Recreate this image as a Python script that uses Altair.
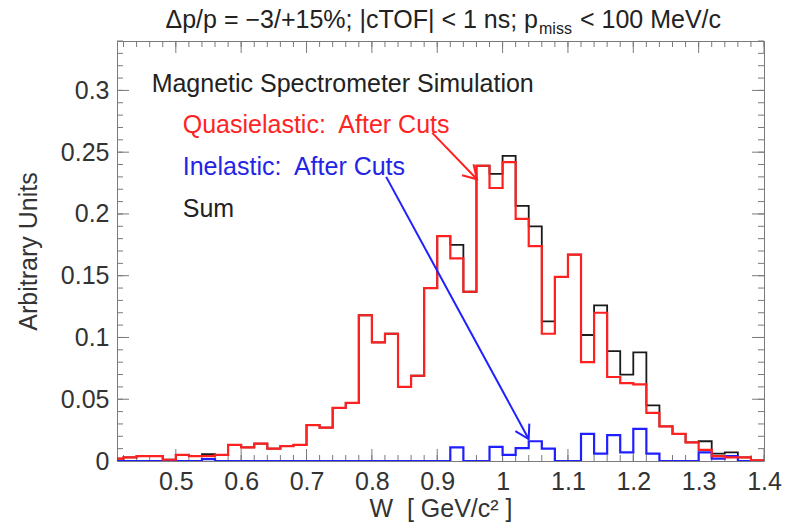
import altair as alt
import numpy as np
import pandas as pd

# W histogram: lower bin edges (GeV/c^2), bins 0.02 wide
BIN = 0.02
bin_lo = np.round(np.arange(0.40, 1.40, BIN), 2)

# Quasielastic events after cuts (red)
quasi = [0.002, 0.003, 0.004, 0.004, 0.001, 0.005, 0.004, 0.004, 0.005, 0.013,
         0.011, 0.014, 0.010, 0.012, 0.013, 0.029, 0.027, 0.043, 0.047, 0.118,
         0.096, 0.103, 0.060, 0.069, 0.140, 0.182, 0.164, 0.137, 0.239, 0.221,
         0.242, 0.196, 0.174, 0.103, 0.149, 0.167, 0.080, 0.120, 0.068, 0.063,
         0.062, 0.039, 0.028, 0.022, 0.015, 0.009, 0.004, 0.003, 0.003, 0.0005]

# Inelastic events after cuts (blue)
inel = [0.0, 0.0, 0.0, 0.0, 0.0, 0.0, 0.0, 0.0015, 0.0, 0.0,
        0.0, 0.0, 0.0, 0.0, 0.0, 0.0, 0.0, 0.0, 0.0, 0.0,
        0.0, 0.0, 0.0, 0.0, 0.0, 0.0, 0.011, 0.0, 0.0, 0.0115,
        0.005, 0.0105, 0.016, 0.010, 0.0, 0.0, 0.022, 0.006, 0.021, 0.007,
        0.026, 0.006, 0.0, 0.0, 0.0, 0.007, 0.002, 0.004, 0.0, 0.0]

# Sum of both channels (black)
total = [0.002, 0.003, 0.004, 0.004, 0.001, 0.005, 0.004, 0.0055, 0.005, 0.013,
         0.011, 0.014, 0.010, 0.012, 0.013, 0.029, 0.027, 0.043, 0.047, 0.118,
         0.096, 0.103, 0.060, 0.069, 0.140, 0.182, 0.175, 0.137, 0.239, 0.2325,
         0.247, 0.2065, 0.190, 0.113, 0.149, 0.167, 0.102, 0.126, 0.089, 0.070,
         0.088, 0.045, 0.028, 0.022, 0.015, 0.016, 0.006, 0.007, 0.003, 0.0005]

x_major = [0.5, 0.6, 0.7, 0.8, 0.9, 1.0, 1.1, 1.2, 1.3, 1.4]
y_major = [0.0, 0.05, 0.1, 0.15, 0.2, 0.25, 0.3]
x_minor = list(np.round(np.arange(0.42, 1.401, 0.02), 2))
y_minor = list(np.round(np.arange(0.01, 0.341, 0.01), 2))

NB = "\u00a0"
legend_text = ["Magnetic Spectrometer Simulation", "Quasielastic:" + NB + " After Cuts",
               "Inelastic:" + NB + " After Cuts", "Sum"]
legend_W = [0.463, 0.5106, 0.5106, 0.5106]
legend_v = [0.2985, 0.2654, 0.2316, 0.1978]
legend_col = ["#222222", "#ff2424", "#2424e6", "#222222"]

# arrows: (start W, start v) -> (tip W, tip v)
red_arrow = [(0.8924, 0.2656), (0.9608, 0.2281)]
blue_arrow = [(0.8219, 0.2300), (1.0399, 0.0178)]

W_PX, H_PX = 647, 420
FONT = "Liberation Sans"
FS = 25

xs = alt.Scale(domain=[0.41, 1.40], nice=False, zero=False)
ys = alt.Scale(domain=[0.0, 0.34], nice=False, zero=False)


def steps(vals):
    rows = []
    for i, (lo, v) in enumerate(zip(bin_lo, vals)):
        rows.append({"W": float(lo), "v": v, "o": 2 * i})
        rows.append({"W": float(lo) + BIN, "v": v, "o": 2 * i + 1})
    return pd.DataFrame(rows)


X = alt.X("W:Q", scale=xs,
          axis=alt.Axis(values=x_major, format="~g",
                        title="W" + NB + " [ GeV/c² ]",
                        titleX=W_PX / 2, titleY=55, titleAlign="center",
                        titleBaseline="alphabetic", labelFlush=False))
Y = alt.Y("v:Q", scale=ys,
          axis=alt.Axis(values=y_major, format="~g", title="Arbitrary Units",
                        titleAngle=270, titleX=-89, titleY=H_PX / 2,
                        titleAlign="center", titleBaseline="middle",
                        labelFlush=False))


def hist(vals, color, width):
    return alt.Chart(steps(vals)).mark_line(
        color=color, strokeWidth=width, clip=True, strokeJoin="miter"
    ).encode(x=X, y=Y, order="o:Q")


sum_line = hist(total, "#1a1a1a", 1.8)
inel_line = hist(inel, "#2020ff", 2.2)
quasi_line = hist(quasi, "#ff2020", 2.2)

# inward ticks on all four sides of the frame
TICK_COL = "#7a7a7a"


def xticks(vals, length):
    d = pd.DataFrame({"W": vals})
    bottom = alt.Chart(d).mark_rule(color=TICK_COL, strokeWidth=1).encode(
        x=X, y=alt.value(H_PX), y2=alt.value(H_PX - length))
    top = alt.Chart(d).mark_rule(color=TICK_COL, strokeWidth=1).encode(
        x=X, y=alt.value(0), y2=alt.value(length))
    return bottom + top


def yticks(vals, length):
    d = pd.DataFrame({"v": vals})
    left = alt.Chart(d).mark_rule(color=TICK_COL, strokeWidth=1).encode(
        y=Y, x=alt.value(0), x2=alt.value(length))
    right = alt.Chart(d).mark_rule(color=TICK_COL, strokeWidth=1).encode(
        y=Y, x=alt.value(W_PX), x2=alt.value(W_PX - length))
    return left + right


ticks = xticks(x_minor, 6) + xticks(x_major, 12) + yticks(y_minor, 6) + yticks(y_major, 12)

legend = alt.Chart(pd.DataFrame({"W": legend_W, "v": legend_v, "t": legend_text,
                                 "c": legend_col})).mark_text(
    align="left", baseline="alphabetic", font=FONT, fontSize=FS
).encode(x=X, y=Y, text="t:N", color=alt.Color("c:N", scale=None))


def arrow(pts, color, angle):
    d = pd.DataFrame({"W": [p[0] for p in pts], "v": [p[1] for p in pts]})
    shaft = alt.Chart(d).mark_line(color=color, strokeWidth=2).encode(x=X, y=Y)
    head = alt.Chart(d.iloc[[1]]).mark_point(
        shape="M -1 -0.6 L 0 0 L -1 0.6", filled=False, size=700,
        color=color, strokeWidth=2, angle=angle, opacity=1
    ).encode(x=X, y=Y)
    return shaft + head


red_arr = arrow(red_arrow, "#ff2020", 46)
blue_arr = arrow(blue_arrow, "#2020ff", 61.5)

# title with subscript
title_main = alt.Chart(pd.DataFrame({"t": ["Δp/p = −3/+15%; |cTOF| < 1 ns; p"]})).mark_text(
    align="right", baseline="alphabetic", font=FONT, fontSize=FS, color="#222222"
).encode(x=alt.value(421), y=alt.value(-13), text="t:N")
title_sub = alt.Chart(pd.DataFrame({"t": ["miss"]})).mark_text(
    align="left", baseline="alphabetic", font=FONT, fontSize=16, color="#222222"
).encode(x=alt.value(422), y=alt.value(-7), text="t:N")
title_tail = alt.Chart(pd.DataFrame({"t": ["< 100 MeV/c"]})).mark_text(
    align="left", baseline="alphabetic", font=FONT, fontSize=FS, color="#222222"
).encode(x=alt.value(463), y=alt.value(-13), text="t:N")

chart = alt.layer(
    ticks, sum_line, inel_line, quasi_line, red_arr, blue_arr, legend,
    title_main, title_sub, title_tail
).properties(
    width=W_PX, height=H_PX,
    background="white",
    autosize=alt.AutoSizeParams(type="none"),
    padding={"left": 117, "top": 41, "right": 22, "bottom": 65},
).configure_view(
    stroke="#7a7a7a", strokeWidth=1
).configure_axis(
    ticks=False, domain=False, grid=False,
    labelFont=FONT, labelFontSize=FS, labelColor="#333333", labelPadding=8,
    titleFont=FONT, titleFontSize=FS, titleFontWeight="normal", titleColor="#333333",
)

chart.save("out.html", embed_options={"renderer": "svg", "actions": False})
